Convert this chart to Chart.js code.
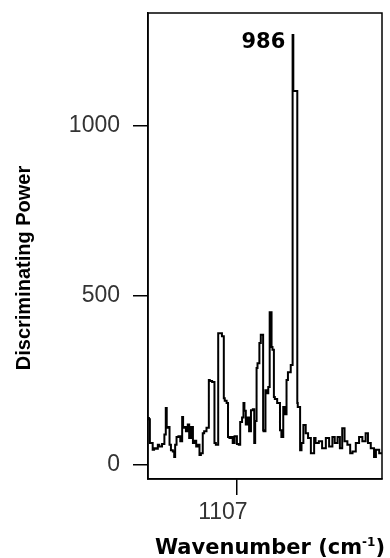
<!DOCTYPE html>
<html>
<head>
<meta charset="utf-8">
<script src="https://cdn.jsdelivr.net/npm/chart.js@4/dist/chart.umd.min.js"></script>
<style>
  html, body { margin: 0; padding: 0; background: #fff; }
  #c { display: block; }
</style>
</head>
<body>
<canvas id="c" width="390" height="558"></canvas>
<script>
// ---- data ----
const wavenumbers = [
  1295, 1293, 1287, 1284, 1280, 1276, 1273, 1267, 1262, 1259,
  1257, 1254, 1251, 1248, 1244, 1241, 1239, 1236, 1232, 1228,
  1224, 1222, 1219, 1216, 1212, 1209, 1205, 1201, 1198, 1194,
  1191, 1187, 1184, 1180, 1177, 1172, 1167, 1165, 1160, 1155,
  1152, 1147, 1143, 1139, 1135, 1133, 1129, 1126, 1123, 1120,
  1116, 1112, 1107, 1103, 1100, 1096, 1093, 1091, 1088, 1084,
  1081, 1077, 1073, 1070, 1068, 1065, 1063, 1059, 1056, 1053,
  1051, 1050, 1046, 1043, 1040, 1037, 1035, 1033, 1031, 1028,
  1026, 1021, 1015, 1012, 1008, 1005, 1001, 998, 992, 988,
  986.5, 986, 978, 977, 972, 969, 965, 960, 955, 949,
  942, 939, 932, 925, 917, 910, 903, 898, 892, 887,
  882, 877, 871, 865, 860, 853, 846, 839, 832, 827,
  821, 814, 810, 803, 797
];
const power = [
  142, 135, 65, 45, 50, 48, 60, 55, 62, 90,
  168, 110, 112, 60, 44, 40, 24, 60, 83, 85,
  70, 142, 110, 112, 100, 120, 80, 112, 65, 72,
  55, 60, 30, 35, 94, 100, 110, 251, 248, 245,
  65, 60, 389, 389, 380, 197, 190, 183, 83, 80,
  83, 65, 85, 62, 60, 127, 140, 183, 160, 120,
  140, 100, 162, 165, 65, 130, 286, 300, 360, 384,
  384, 103, 100, 221, 212, 230, 451, 451, 348, 340,
  201, 195, 183, 103, 83, 171, 150, 251, 274, 295,
  1268, 1103, 1103, 183, 171, 44, 65, 118, 94, 80,
  35, 80, 65, 70, 50, 80, 55, 83, 65, 83,
  50, 109, 70, 60, 35, 40, 65, 83, 70, 94,
  65, 50, 24, 45, 35
];
const xTickValues = [1107];
const yTickValues = [0, 500, 1000];
const peakLabel = '986';
const peakWavenumber = 986.5;
const peakValue = 1268;
const xTitle = 'Wavenumber (cm';
const xTitleSup = '-1';
const yTitle = 'Discriminating Power';

const points = wavenumbers.map((w, i) => ({ x: w, y: power[i] }));

const BOLD = 'bold 21px "DejaVu Sans", sans-serif';

const framePlugin = {
  id: 'frame',
  afterDraw(chart) {
    const { ctx, chartArea: a, scales } = chart;
    ctx.save();
    ctx.strokeStyle = '#000';
    ctx.lineWidth = 1.5;
    ctx.strokeRect(a.left, a.top, a.right - a.left, a.bottom - a.top);

    // peak annotation
    const px = scales.x.getPixelForValue(peakWavenumber);
    const py = scales.y.getPixelForValue(peakValue);
    ctx.fillStyle = '#000';
    ctx.font = BOLD;
    ctx.textAlign = 'right';
    ctx.textBaseline = 'top';
    ctx.fillText(peakLabel, px - 8, py - 3);

    // y title
    ctx.save();
    ctx.translate(24, 268);
    ctx.rotate(-Math.PI / 2);
    ctx.textAlign = 'center';
    ctx.textBaseline = 'middle';
    ctx.font = 'bold 20px "Liberation Sans", Arial, sans-serif';
    ctx.fillText(yTitle, 0, 0);
    ctx.restore();

    // x title with superscript
    ctx.font = BOLD;
    const w1 = ctx.measureText(xTitle).width;
    ctx.font = 'bold 12px "DejaVu Sans", sans-serif';
    const w2 = ctx.measureText(xTitleSup).width;
    ctx.font = BOLD;
    const w3 = ctx.measureText(')').width;
    const total = w1 + w2 + w3;
    let sx = 270 - total / 2;
    const by = 554;
    ctx.textAlign = 'left';
    ctx.textBaseline = 'alphabetic';
    ctx.fillText(xTitle, sx, by);
    sx += w1;
    ctx.font = 'bold 12px "DejaVu Sans", sans-serif';
    ctx.fillText(xTitleSup, sx, by - 8);
    sx += w2;
    ctx.font = BOLD;
    ctx.fillText(')', sx, by);
    ctx.restore();
  }
};

new Chart(document.getElementById('c'), {
  type: 'line',
  data: {
    datasets: [{
      data: points,
      borderColor: '#000',
      borderWidth: 2,
      pointRadius: 0,
      stepped: 'after',
      fill: false
    }]
  },
  options: {
    responsive: false,
    animation: false,
    devicePixelRatio: 1,
    layout: { padding: { top: 13, right: 8, left: 0, bottom: 0 } },
    plugins: { legend: { display: false }, tooltip: { enabled: false } },
    scales: {
      x: {
        type: 'linear',
        reverse: true,
        min: 797,
        max: 1297,
        afterBuildTicks: (s) => { s.ticks = xTickValues.map(v => ({ value: v })); },
        afterFit: (s) => { s.height = 79; s.paddingLeft = 0; s.paddingRight = 0; },
        ticks: {
          color: '#333',
          font: { family: '"Liberation Sans", Arial, sans-serif', size: 23 },
          padding: 4,
          labelOffset: -14,
          maxRotation: 0,
          autoSkip: false,
          callback: (v) => String(v)
        },
        grid: { drawOnChartArea: false, drawTicks: true, tickLength: 16, color: '#000', lineWidth: 1.5 },
        border: { display: true, color: '#000', width: 1.5 }
      },
      y: {
        type: 'linear',
        min: -41,
        max: 1333,
        afterBuildTicks: (s) => { s.ticks = yTickValues.map(v => ({ value: v })); },
        afterFit: (s) => { s.width = 148; s.paddingTop = 0; s.paddingBottom = 0; },
        ticks: {
          color: '#333',
          font: { family: '"Liberation Sans", Arial, sans-serif', size: 23 },
          padding: 13,
          callback: (v) => String(v)
        },
        grid: { drawOnChartArea: false, drawTicks: true, tickLength: 15, color: '#000', lineWidth: 1.5 },
        border: { display: true, color: '#000', width: 1.5 }
      }
    }
  },
  plugins: [framePlugin]
});
</script>
</body>
</html>
